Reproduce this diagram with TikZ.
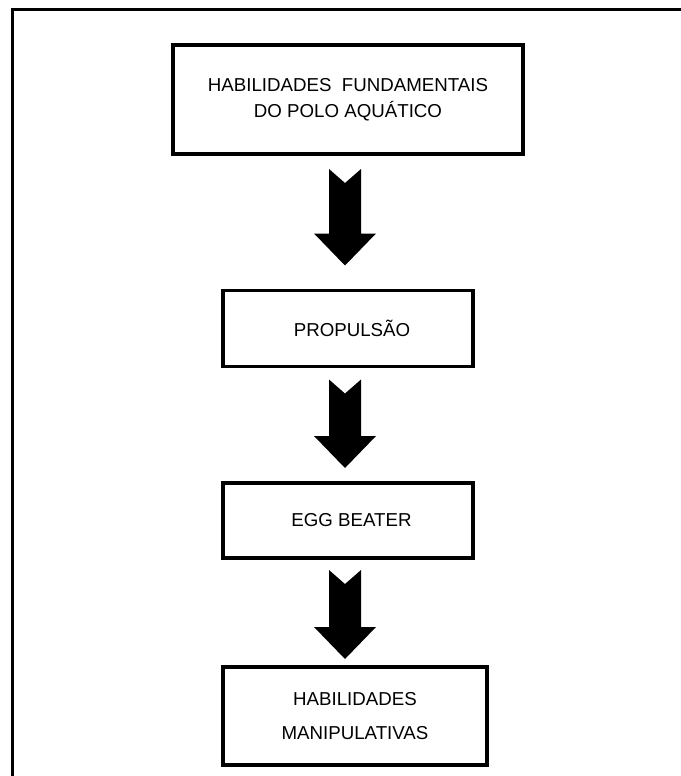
\documentclass[tikz,border=0pt]{standalone}
\usepackage{fontspec}
\setmainfont{Liberation Sans}
\usetikzlibrary{calc}

\tikzset{
  stage/.style={draw=black, line width=3.2pt, fill=white, inner sep=0pt, outer sep=0pt,
    align=center, font=\fontsize{18.7}{26}\selectfont},
  frameline/.style={draw=black, line width=3pt},
  bigarrow/.style={fill=black}
}

% Block arrow from the top point #1 down to the tip #2
\newcommand\blockarrow[2]{%
  \path[bigarrow] let \p1=(#1), \p2=(#2) in
    (\x1-16pt,\y1) -- (\x1,\y1-14pt) -- (\x1+16pt,\y1) -- (\x1+16pt,\y2+32pt)
    -- (\x1+31pt,\y2+32pt) -- (\x1,\y2) -- (\x1-31pt,\y2+32pt) -- (\x1-16pt,\y2+32pt) -- cycle;}

\begin{document}
\begin{tikzpicture}[x=1pt,y=-1pt]
  \useasboundingbox (0,0) rectangle (680,776);
  \fill[white] (0,0) rectangle (680,776);

  % surrounding frame (open towards the right and the bottom)
  \coordinate (fbl) at (12,790);
  \coordinate (ftl) at (12,10);
  \coordinate (ftr) at (690,10);
  \draw[frameline] (fbl) -- (ftl) -- (ftr);

  % stages
  \node[stage, minimum width=350pt, minimum height=109pt] (b1) at (348,99.5)
    {HABILIDADES\ \ FUNDAMENTAIS\\DO POLO AQUÁTICO};
  \node[stage, minimum width=250pt, minimum height=76pt] (b2) at (348,328.5)
    {\hspace*{8pt}PROPULSÃO};
  \node[stage, minimum width=250pt, minimum height=75pt] (b3) at (348,520.5)
    {\hspace*{7pt}EGG BEATER};
  \node[stage, minimum width=264pt, minimum height=98pt,
    font=\fontsize{18.7}{34}\selectfont] (b4) at (355,716)
    {HABILIDADES\\MANIPULATIVAS};

  % arrow end points
  \coordinate (a1t) at ($(b1.south)+(-3,15)$);
  \coordinate (a1h) at ($(b2.north)+(-3,-25)$);
  \coordinate (a2t) at ($(b2.south)+(-3,13)$);
  \coordinate (a2h) at ($(b3.north)+(-3,-15)$);
  \coordinate (a3t) at ($(b3.south)+(-3,12)$);
  \coordinate (a3h) at ($(b4.north)+(-10,-8)$);

  \blockarrow{a1t}{a1h}
  \blockarrow{a2t}{a2h}
  \blockarrow{a3t}{a3h}
\end{tikzpicture}
\end{document}
